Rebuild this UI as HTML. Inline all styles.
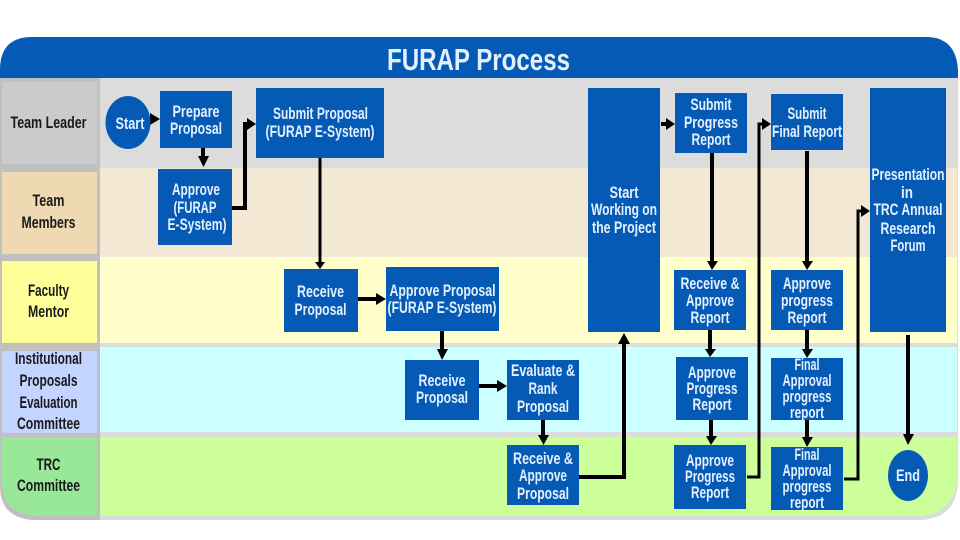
<!DOCTYPE html>
<html><head><meta charset="utf-8"><style>
html,body{margin:0;padding:0;background:#fff}
svg{display:block}
text{font-family:"Liberation Sans",sans-serif}
.w{fill:#e4f0ff;font-size:16.500px;font-weight:bold;text-anchor:middle}
.k{fill:#1a1a1a;font-size:16.500px;font-weight:bold;text-anchor:middle}
.b{fill:#055ab5}
.l{stroke:#000;stroke-width:3;fill:none}
.t{stroke:#000;stroke-width:4;fill:none}
</style></head><body>
<svg width="960" height="540" viewBox="0 0 960 540" xmlns="http://www.w3.org/2000/svg">
<rect width="960" height="540" fill="#fff"/>
<!-- frame -->
<path d="M0 78H958V482Q956 520 918 520H34Q0 518 0 486Z" fill="#dcdcdc"/>
<path d="M0 78H100V520H34Q0 518 0 486Z" fill="#c0c0c0"/>
<path d="M0 78V70Q0 37 32 37H926Q956 37 958 70V78Z" fill="#055ab5"/>
<!-- lanes -->
<rect x="100" y="168" width="857" height="89" fill="#f2e8d3"/>
<rect x="100" y="257" width="857" height="86" fill="#ffffcc"/>
<rect x="100" y="347" width="857" height="85" fill="#ccffff"/>
<path d="M100 437H957V482Q950 516 918 516H100Z" fill="#ccff99"/>
<!-- labels -->
<rect x="2" y="82" width="95" height="82" fill="#cbcbcb"/>
<rect x="2" y="172" width="95" height="82" fill="#eed9b2"/>
<rect x="2" y="261" width="95" height="82" fill="#ffff99"/>
<rect x="2" y="351" width="95" height="82" fill="#c2d4ff"/>
<path d="M2 437H97V516H36Q2 512 2 482Z" fill="#99e89a"/>
<text class="k" x="48.500" y="128" textLength="76" lengthAdjust="spacingAndGlyphs">Team Leader</text>
<text class="k" x="48.500" y="206" textLength="32" lengthAdjust="spacingAndGlyphs">Team</text>
<text class="k" x="48.500" y="228" textLength="54" lengthAdjust="spacingAndGlyphs">Members</text>
<text class="k" x="48.500" y="296" textLength="41" lengthAdjust="spacingAndGlyphs">Faculty</text>
<text class="k" x="48.500" y="317" textLength="41" lengthAdjust="spacingAndGlyphs">Mentor</text>
<text class="k" x="48.500" y="364" textLength="67" lengthAdjust="spacingAndGlyphs">Institutional</text>
<text class="k" x="48.500" y="386" textLength="58" lengthAdjust="spacingAndGlyphs">Proposals</text>
<text class="k" x="48.500" y="408" textLength="58" lengthAdjust="spacingAndGlyphs">Evaluation</text>
<text class="k" x="48.500" y="429" textLength="63" lengthAdjust="spacingAndGlyphs">Committee</text>
<text class="k" x="48.500" y="470" textLength="24" lengthAdjust="spacingAndGlyphs">TRC</text>
<text class="k" x="48.500" y="491" textLength="63" lengthAdjust="spacingAndGlyphs">Committee</text>
<text x="478.500" y="70" text-anchor="middle" font-size="31" font-weight="bold" fill="#e4f0ff" textLength="183" lengthAdjust="spacingAndGlyphs">FURAP Process</text>
<!-- connectors -->
<g class="l">
<path class="t" d="M150 119H154"/>
<path class="t" d="M203 148V158"/>
<path class="t" d="M232 208H245V124H249"/>
<path d="M320 158V262"/>
<path class="t" d="M358 299H377"/>
<path class="t" d="M442 331V351"/>
<path class="t" d="M479 386H498"/>
<path class="t" d="M543 420V437"/>
<path class="t" d="M579 477H624V342"/>
<path class="t" d="M661 124H668"/>
<path class="t" d="M712 153V262"/>
<path class="t" d="M807 151V262"/>
<path class="t" d="M710 330V350"/>
<path class="t" d="M807 330V350"/>
<path class="t" d="M711 418V437"/>
<path class="t" d="M807 418V439"/>
<path d="M747 477H759V124H764"/>
<path d="M844 479H858V211H863"/>
<path class="t" d="M908 335V436"/>
</g>
<g fill="#000">
<path d="M150 113L160 119L150 125Z"/>
<path d="M198 156H209L203.500 167Z"/>
<path d="M247 118L256 124L247 130Z"/>
<path d="M315 262H325L320 269Z"/>
<path d="M376 293L386 299L376 305Z"/>
<path d="M437 349H448L442 360Z"/>
<path d="M497 380L507 386L497 392Z"/>
<path d="M538 435H549L543.500 445Z"/>
<path d="M618 344H630L624 333Z"/>
<path d="M666 118L675 124L666 130Z"/>
<path d="M707 261H718L712 270Z"/>
<path d="M802 261H813L807 270Z"/>
<path d="M705 349H716L710 357Z"/>
<path d="M802 349H813L807 358Z"/>
<path d="M706 436H717L711 445Z"/>
<path d="M802 437H813L807 447Z"/>
<path d="M762 118L771 124L762 130Z"/>
<path d="M861 205L870 211L861 217Z"/>
<path d="M903 434H914L908 445Z"/>
</g>
<!-- nodes -->
<ellipse class="b" cx="128" cy="122.500" rx="22.500" ry="26.500"/>
<rect class="b" x="160" y="91" width="72" height="57"/>
<rect class="b" x="158" y="169" width="74" height="76"/>
<rect class="b" x="256" y="88" width="128" height="70"/>
<rect class="b" x="284" y="269" width="74" height="63"/>
<rect class="b" x="386" y="267" width="113" height="64"/>
<rect class="b" x="405" y="360" width="74" height="60"/>
<rect class="b" x="507" y="360" width="72" height="60"/>
<rect class="b" x="507" y="445" width="72" height="60"/>
<rect class="b" x="588" y="88" width="72" height="244"/>
<rect class="b" x="675" y="93" width="72" height="60"/>
<rect class="b" x="674" y="270" width="72" height="60"/>
<rect class="b" x="676" y="357" width="72" height="63"/>
<rect class="b" x="674" y="445" width="72" height="64"/>
<rect class="b" x="771" y="94" width="72" height="56"/>
<rect class="b" x="771" y="270" width="72" height="60"/>
<rect class="b" x="771" y="358" width="72" height="62"/>
<rect class="b" x="771" y="447" width="72" height="63"/>
<rect class="b" x="870" y="88" width="76" height="244"/>
<ellipse class="b" cx="908" cy="475.500" rx="20" ry="25.500"/>
<!-- node text -->
<text class="w" x="130" y="129" textLength="29" lengthAdjust="spacingAndGlyphs">Start</text>
<text class="w" x="196" y="117" textLength="47" lengthAdjust="spacingAndGlyphs">Prepare</text>
<text class="w" x="196" y="134" textLength="52" lengthAdjust="spacingAndGlyphs">Proposal</text>
<text class="w" x="196" y="195" textLength="48" lengthAdjust="spacingAndGlyphs">Approve</text>
<text class="w" x="195" y="213" textLength="43" lengthAdjust="spacingAndGlyphs">(FURAP</text>
<text class="w" x="197" y="230" textLength="59" lengthAdjust="spacingAndGlyphs">E-System)</text>
<text class="w" x="320.500" y="119" textLength="95" lengthAdjust="spacingAndGlyphs">Submit Proposal</text>
<text class="w" x="320" y="137" textLength="109" lengthAdjust="spacingAndGlyphs">(FURAP  E-System)</text>
<text class="w" x="320.500" y="297" textLength="47" lengthAdjust="spacingAndGlyphs">Receive</text>
<text class="w" x="320.500" y="315" textLength="52" lengthAdjust="spacingAndGlyphs">Proposal</text>
<text class="w" x="442.500" y="296" textLength="106" lengthAdjust="spacingAndGlyphs">Approve Proposal</text>
<text class="w" x="442" y="313" textLength="109" lengthAdjust="spacingAndGlyphs">(FURAP  E-System)</text>
<text class="w" x="442" y="386" textLength="47" lengthAdjust="spacingAndGlyphs">Receive</text>
<text class="w" x="442" y="403" textLength="52" lengthAdjust="spacingAndGlyphs">Proposal</text>
<text class="w" x="543" y="376" textLength="64" lengthAdjust="spacingAndGlyphs">Evaluate &amp;</text>
<text class="w" x="543" y="394" textLength="29" lengthAdjust="spacingAndGlyphs">Rank</text>
<text class="w" x="543" y="412" textLength="52" lengthAdjust="spacingAndGlyphs">Proposal</text>
<text class="w" x="543" y="464" textLength="60" lengthAdjust="spacingAndGlyphs">Receive &amp;</text>
<text class="w" x="543" y="481" textLength="48" lengthAdjust="spacingAndGlyphs">Approve</text>
<text class="w" x="543" y="499" textLength="52" lengthAdjust="spacingAndGlyphs">Proposal</text>
<text class="w" x="624" y="198" textLength="29" lengthAdjust="spacingAndGlyphs">Start</text>
<text class="w" x="624" y="215" textLength="66" lengthAdjust="spacingAndGlyphs">Working on</text>
<text class="w" x="624" y="233" textLength="64" lengthAdjust="spacingAndGlyphs">the Project</text>
<text class="w" x="711" y="110" textLength="41" lengthAdjust="spacingAndGlyphs">Submit</text>
<text class="w" x="711" y="128" textLength="54" lengthAdjust="spacingAndGlyphs">Progress</text>
<text class="w" x="711" y="145" textLength="39" lengthAdjust="spacingAndGlyphs">Report</text>
<text class="w" x="807" y="119" textLength="39" lengthAdjust="spacingAndGlyphs">Submit</text>
<text class="w" x="807" y="137" textLength="70" lengthAdjust="spacingAndGlyphs">Final Report</text>
<text class="w" x="710" y="289" textLength="59" lengthAdjust="spacingAndGlyphs">Receive &amp;</text>
<text class="w" x="710" y="306" textLength="48" lengthAdjust="spacingAndGlyphs">Approve</text>
<text class="w" x="710" y="323" textLength="39" lengthAdjust="spacingAndGlyphs">Report</text>
<text class="w" x="807" y="289" textLength="48" lengthAdjust="spacingAndGlyphs">Approve</text>
<text class="w" x="807" y="306" textLength="52" lengthAdjust="spacingAndGlyphs">progress</text>
<text class="w" x="807" y="323" textLength="39" lengthAdjust="spacingAndGlyphs">Report</text>
<text class="w" x="712" y="378" textLength="48" lengthAdjust="spacingAndGlyphs">Approve</text>
<text class="w" x="712" y="394" textLength="51" lengthAdjust="spacingAndGlyphs">Progress</text>
<text class="w" x="712" y="410" textLength="39" lengthAdjust="spacingAndGlyphs">Report</text>
<text class="w" x="710" y="466" textLength="48" lengthAdjust="spacingAndGlyphs">Approve</text>
<text class="w" x="710" y="482" textLength="50" lengthAdjust="spacingAndGlyphs">Progress</text>
<text class="w" x="710" y="498" textLength="38" lengthAdjust="spacingAndGlyphs">Report</text>
<text class="w" x="807" y="370" textLength="25" lengthAdjust="spacingAndGlyphs">Final</text>
<text class="w" x="807" y="386" textLength="49" lengthAdjust="spacingAndGlyphs">Approval</text>
<text class="w" x="807" y="402" textLength="49" lengthAdjust="spacingAndGlyphs">progress</text>
<text class="w" x="807" y="418" textLength="34" lengthAdjust="spacingAndGlyphs">report</text>
<text class="w" x="807" y="460" textLength="25" lengthAdjust="spacingAndGlyphs">Final</text>
<text class="w" x="807" y="476" textLength="49" lengthAdjust="spacingAndGlyphs">Approval</text>
<text class="w" x="807" y="492" textLength="49" lengthAdjust="spacingAndGlyphs">progress</text>
<text class="w" x="807" y="508" textLength="34" lengthAdjust="spacingAndGlyphs">report</text>
<text class="w" x="908" y="180" textLength="73" lengthAdjust="spacingAndGlyphs">Presentation</text>
<text class="w" x="907" y="198" textLength="12" lengthAdjust="spacingAndGlyphs">in</text>
<text class="w" x="908" y="215" textLength="69" lengthAdjust="spacingAndGlyphs">TRC Annual</text>
<text class="w" x="908" y="234" textLength="55" lengthAdjust="spacingAndGlyphs">Research</text>
<text class="w" x="908" y="251" textLength="35" lengthAdjust="spacingAndGlyphs">Forum</text>
<text class="w" x="908" y="481" textLength="24" lengthAdjust="spacingAndGlyphs">End</text>
</svg>
</body></html>
